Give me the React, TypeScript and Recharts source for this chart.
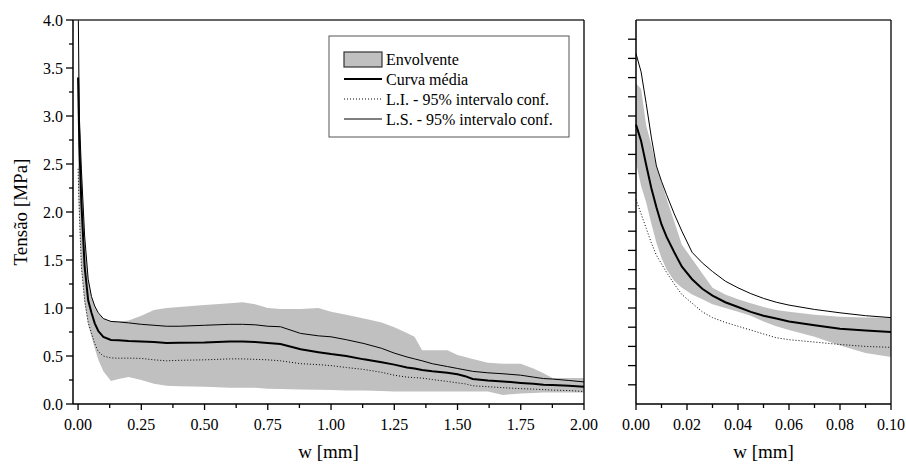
import React from 'react';
import { ComposedChart, Line, Area, XAxis, YAxis, ReferenceLine } from 'recharts';

// left panel: full curve, w from 0 to 2 mm
const leftW = [0, 0.005, 0.013, 0.026, 0.04, 0.053, 0.066, 0.08, 0.1, 0.13, 0.16, 0.2, 0.25, 0.3, 0.35, 0.4, 0.5, 0.6, 0.65, 0.7, 0.75, 0.8, 0.88, 0.95, 1.0, 1.06, 1.13, 1.2, 1.25, 1.3, 1.33, 1.36, 1.4, 1.46, 1.5, 1.53, 1.56, 1.62, 1.68, 1.75, 1.8, 1.84, 1.875, 1.94, 2.0];
const leftMean = [3.4, 2.7, 2.1, 1.43, 1.08, 0.95, 0.84, 0.76, 0.7, 0.667, 0.665, 0.656, 0.65, 0.645, 0.635, 0.637, 0.64, 0.65, 0.65, 0.645, 0.635, 0.625, 0.57, 0.54, 0.52, 0.5, 0.465, 0.435, 0.41, 0.38, 0.37, 0.355, 0.34, 0.325, 0.31, 0.29, 0.26, 0.245, 0.235, 0.22, 0.21, 0.2, 0.198, 0.19, 0.18];
const leftLS = [4.3, 3.0, 2.45, 1.75, 1.3, 1.12, 1.02, 0.95, 0.89, 0.86, 0.855, 0.845, 0.83, 0.82, 0.81, 0.81, 0.82, 0.83, 0.83, 0.825, 0.81, 0.805, 0.735, 0.71, 0.7, 0.67, 0.63, 0.58, 0.53, 0.49, 0.47, 0.45, 0.42, 0.39, 0.37, 0.355, 0.34, 0.325, 0.315, 0.3, 0.28, 0.265, 0.26, 0.245, 0.23];
const leftLI = [2.45, 2.0, 1.43, 1.08, 0.85, 0.74, 0.63, 0.545, 0.5, 0.48, 0.477, 0.478, 0.475, 0.46, 0.45, 0.455, 0.46, 0.47, 0.47, 0.465, 0.46, 0.45, 0.42, 0.41, 0.4, 0.38, 0.36, 0.33, 0.3, 0.28, 0.275, 0.27, 0.255, 0.235, 0.22, 0.21, 0.19, 0.18, 0.17, 0.16, 0.155, 0.15, 0.145, 0.14, 0.13];
const leftEnvLow = [2.3, 1.9, 1.4, 1.05, 0.82, 0.7, 0.58, 0.46, 0.34, 0.24, 0.26, 0.28, 0.25, 0.21, 0.19, 0.185, 0.18, 0.17, 0.17, 0.17, 0.16, 0.155, 0.15, 0.148, 0.145, 0.14, 0.14, 0.135, 0.13, 0.13, 0.13, 0.13, 0.13, 0.13, 0.13, 0.13, 0.13, 0.13, 0.095, 0.11, 0.115, 0.12, 0.12, 0.12, 0.12];
const leftEnvHigh = [4.4, 3.1, 2.5, 1.75, 1.3, 1.12, 1.02, 0.94, 0.89, 0.86, 0.86, 0.87, 0.92, 0.98, 1.0, 1.01, 1.03, 1.05, 1.06, 1.04, 1.0, 0.99, 0.99, 1.0, 0.96, 0.93, 0.89, 0.85, 0.8, 0.74, 0.7, 0.56, 0.56, 0.56, 0.51, 0.49, 0.47, 0.43, 0.42, 0.42, 0.37, 0.32, 0.27, 0.27, 0.27];

// right panel: zoom on w from 0 to 0.1 mm
const rightW = [0, 0.002, 0.004, 0.006, 0.008, 0.01, 0.012, 0.015, 0.018, 0.022, 0.026, 0.03, 0.035, 0.04, 0.045, 0.05, 0.055, 0.06, 0.07, 0.08, 0.09, 0.1];
const rightMean = [2.91, 2.74, 2.49, 2.25, 2.05, 1.87, 1.74, 1.58, 1.43, 1.3, 1.2, 1.13, 1.06, 1.01, 0.96, 0.92, 0.89, 0.86, 0.82, 0.785, 0.765, 0.75];
const rightLS = [3.65, 3.46, 3.13, 2.78, 2.48, 2.32, 2.18, 1.98, 1.8, 1.58, 1.47, 1.38, 1.28, 1.21, 1.15, 1.1, 1.06, 1.03, 0.985, 0.95, 0.92, 0.9];
const rightLI = [2.13, 1.98, 1.83, 1.68, 1.55, 1.46, 1.37, 1.25, 1.14, 1.05, 0.96, 0.9, 0.85, 0.81, 0.77, 0.73, 0.69, 0.67, 0.645, 0.62, 0.6, 0.59];
const rightEnvLow = [2.51, 2.27, 2.1, 1.88, 1.68, 1.52, 1.4, 1.28, 1.21, 1.14, 1.09, 1.04, 1.0, 0.96, 0.92, 0.86, 0.81, 0.77, 0.7, 0.61, 0.53, 0.49];
const rightEnvHigh = [3.34, 3.28, 2.9, 2.7, 2.47, 2.31, 2.14, 1.9, 1.66, 1.51, 1.36, 1.21, 1.14, 1.09, 1.05, 1.01, 0.98, 0.96, 0.93, 0.91, 0.9, 0.9];

// ticks
const leftXMajor = [0, 0.25, 0.5, 0.75, 1.0, 1.25, 1.5, 1.75, 2.0];
const leftXMinor = [0.125, 0.375, 0.625, 0.875, 1.125, 1.375, 1.625, 1.875];
const yMajor = [0, 0.5, 1.0, 1.5, 2.0, 2.5, 3.0, 3.5, 4.0];
const yMinor = [0.25, 0.75, 1.25, 1.75, 2.25, 2.75, 3.25, 3.75];
const rightXMajor = [0, 0.02, 0.04, 0.06, 0.08, 0.1];
const rightXMinor = [0.01, 0.03, 0.05, 0.07, 0.09];
const rightYTicks = [0.2, 0.4, 0.6, 0.8, 1.0, 1.2, 1.4, 1.6, 1.8, 2.0, 2.2, 2.4, 2.6, 2.8, 3.0, 3.2, 3.4, 3.6, 3.8];

const legendItems = ['Envolvente', 'Curva média', 'L.I. - 95% intervalo conf.', 'L.S. - 95% intervalo conf.'];

const FONT = '"Liberation Serif", "Times New Roman", serif';
const GREY = '#c0c0c0';

const buildRows = (w: number[], mean: number[], ls: number[], li: number[], lo: number[], hi: number[]) =>
    w.map((x, i) => ({ w: x, mean: mean[i], ls: ls[i], li: li[i], env: [lo[i], hi[i]] }));

const leftData = buildRows(leftW, leftMean, leftLS, leftLI, leftEnvLow, leftEnvHigh);
const rightData = buildRows(rightW, rightMean, rightLS, rightLI, rightEnvLow, rightEnvHigh);

const makeXTick = (major: number[]) => (props: any) => {
    const { x, y, payload } = props;
    const isMajor = major.includes(payload.value);
    return (
        <g>
            <line x1={x} x2={x} y1={y} y2={y + (isMajor ? 6 : 4)} stroke="#000" strokeWidth={1.3} />
            {isMajor && (
                <text x={x} y={y + 26} textAnchor="middle" fontFamily={FONT} fontSize={16} fill="#000">
                    {payload.value.toFixed(2)}
                </text>
            )}
        </g>
    );
};

const LeftYTick = (props: any) => {
    const { x, y, payload } = props;
    const isMajor = yMajor.includes(payload.value);
    return (
        <g>
            <line x1={x - (isMajor ? 7 : 4)} x2={x} y1={y} y2={y} stroke="#000" strokeWidth={1.3} />
            {isMajor && (
                <text x={x - 10} y={y} textAnchor="end" dominantBaseline="central" fontFamily={FONT} fontSize={16} fill="#000">
                    {payload.value.toFixed(1)}
                </text>
            )}
        </g>
    );
};

const RightYTick = (props: any) => {
    const { x, y } = props;
    return <line x1={x - 8} x2={x} y1={y} y2={y} stroke="#000" strokeWidth={1.3} />;
};

const xTitle = (cx: number) => () => (
    <text x={cx} y={458} textAnchor="middle" fontFamily={FONT} fontSize={19} fill="#000">
        w [mm]
    </text>
);

const yTitle = () => (
    <text x={20} y={212} transform="rotate(-90 20 212)" textAnchor="middle" dominantBaseline="central" fontFamily={FONT} fontSize={19} fill="#000">
        Tensão [MPa]
    </text>
);

const series = () => [
    <Area key="env" dataKey="env" type="linear" fill={GREY} fillOpacity={1} stroke="none" isAnimationActive={false} />,
    <Line key="li" dataKey="li" type="linear" stroke="#000" strokeWidth={1} strokeDasharray="1 2" dot={false} isAnimationActive={false} />,
    <Line key="ls" dataKey="ls" type="linear" stroke="#000" strokeWidth={1} dot={false} isAnimationActive={false} />,
    <Line key="mean" dataKey="mean" type="linear" stroke="#000" strokeWidth={2} dot={false} isAnimationActive={false} />,
];

const Legend = () => (
    <svg width={242} height={103} style={{ position: 'absolute', left: 328, top: 35 }}>
        <rect x={1} y={1} width={240} height={101} fill="#fff" stroke="#555" strokeWidth={1} />
        <rect x={16} y={17} width={38} height={15} fill={GREY} stroke="#333" strokeWidth={1.2} />
        <line x1={16} x2={54} y1={44} y2={44} stroke="#000" strokeWidth={2} />
        <line x1={16} x2={54} y1={64} y2={64} stroke="#000" strokeWidth={1} strokeDasharray="1 2" />
        <line x1={16} x2={54} y1={84} y2={84} stroke="#000" strokeWidth={1} />
        {legendItems.map((t, i) => (
            <text key={t} x={58} y={24 + i * 20.3} dominantBaseline="central" fontFamily={FONT} fontSize={16} fill="#000">
                {t}
            </text>
        ))}
    </svg>
);

export default function App() {
    return (
        <div style={{ position: 'absolute', left: 0, top: 0, width: 906, height: 466, background: '#fff' }}>
            <div style={{ position: 'absolute', left: 0, top: 0 }}>
                <ComposedChart width={600} height={466} data={leftData} margin={{ top: 20, right: 16, left: 0, bottom: 0 }}>
                    <XAxis
                        dataKey="w"
                        type="number"
                        domain={[-0.02, 2]}
                        ticks={[...leftXMajor, ...leftXMinor]}
                        interval={0}
                        height={62}
                        tickSize={0}
                        tickMargin={0}
                        tickLine={false}
                        axisLine={{ stroke: '#000', strokeWidth: 1.5 }}
                        tick={makeXTick(leftXMajor)}
                        label={xTitle(328.5)}
                    />
                    <YAxis
                        type="number"
                        domain={[0, 4]}
                        allowDataOverflow
                        ticks={[...yMajor, ...yMinor]}
                        interval={0}
                        width={73}
                        tickSize={0}
                        tickMargin={0}
                        tickLine={false}
                        axisLine={{ stroke: '#000', strokeWidth: 1.5 }}
                        tick={LeftYTick}
                        label={yTitle}
                    />
                    {series()}
                    <ReferenceLine y={4} stroke="#333" strokeWidth={1.5} ifOverflow="visible" />
                    <ReferenceLine x={2} stroke="#000" strokeWidth={1.3} ifOverflow="visible" />
                </ComposedChart>
            </div>
            <div style={{ position: 'absolute', left: 600, top: 0 }}>
                <ComposedChart width={306} height={466} data={rightData} margin={{ top: 20, right: 15, left: 0, bottom: 0 }}>
                    <XAxis
                        dataKey="w"
                        type="number"
                        domain={[0, 0.1]}
                        ticks={[...rightXMajor, ...rightXMinor]}
                        interval={0}
                        height={62}
                        tickSize={0}
                        tickMargin={0}
                        tickLine={false}
                        axisLine={{ stroke: '#000', strokeWidth: 1.5 }}
                        tick={makeXTick(rightXMajor)}
                        label={xTitle(163.5)}
                    />
                    <YAxis
                        type="number"
                        domain={[0, 4]}
                        allowDataOverflow
                        ticks={rightYTicks}
                        interval={0}
                        width={36}
                        tickSize={0}
                        tickMargin={0}
                        tickLine={false}
                        axisLine={{ stroke: '#000', strokeWidth: 1.5 }}
                        tick={RightYTick}
                    />
                    {series()}
                    <ReferenceLine y={4} stroke="#333" strokeWidth={1.5} ifOverflow="visible" />
                    <ReferenceLine x={0.1} stroke="#000" strokeWidth={1.3} ifOverflow="visible" />
                </ComposedChart>
            </div>
            <Legend />
        </div>
    );
}
